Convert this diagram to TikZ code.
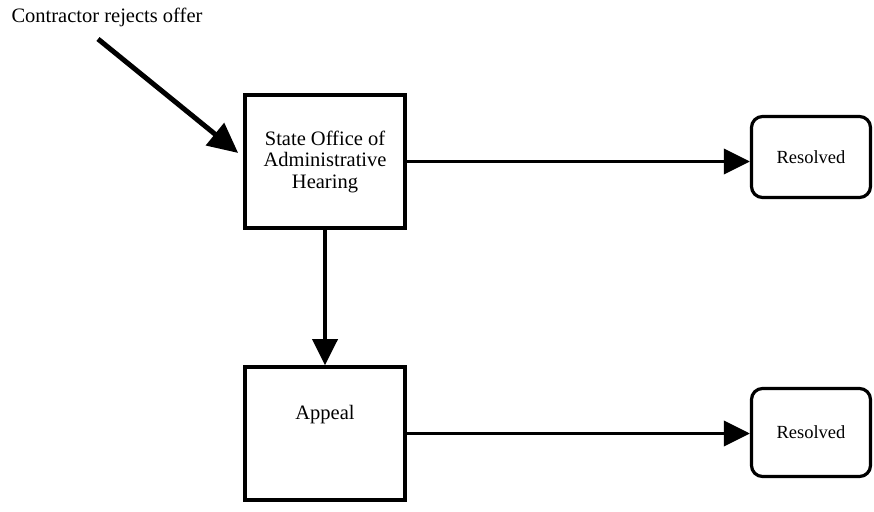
\documentclass[tikz,border=0pt]{standalone}
\usepackage{fontspec}
\setmainfont{Liberation Serif}
\usetikzlibrary{arrows.meta}

\tikzset{
  stagebox/.style={draw, line width=3.6pt, minimum width=160pt, minimum height=133pt,
    inner sep=0pt, align=center, font=\fontsize{20.5}{21.5}\selectfont},
  endbox/.style={draw, line width=3.2pt, rounded corners=11pt, minimum width=119pt,
    inner sep=0pt, font=\fontsize{18.5}{20}\selectfont},
  flow/.style={line width=3.8pt, -{Triangle[length=26pt, width=25pt]}},
  entry/.style={line width=5pt, -{Triangle[length=30pt, width=28pt]}}
}

\begin{document}
\begin{tikzpicture}[x=1pt, y=-1pt]
  \useasboundingbox (0,0) rectangle (874,511);

  % stages of the dispute process
  \node[stagebox] (soah) at (325,161.5) {State Office of\\Administrative\\Hearing};
  \node[stagebox, label={[font=\fontsize{20.5}{21.5}\selectfont, yshift=-62pt]north:Appeal}] (appeal) at (325,433.5) {};

  % outcomes
  \node[endbox, minimum height=81pt] (res1) at (811,157) {Resolved};
  \node[endbox, minimum height=88pt] (res2) at (811,432.5) {Resolved};

  % starting event
  \node[anchor=base west, font=\fontsize{20.5}{21.5}\selectfont] (start) at (8,23) {Contractor rejects offer};
  \coordinate (src) at (98,39);

  % connectors
  \draw[entry] (src) -- ([shift={(-5,-8.5)}]soah.west);
  \draw[flow] (soah.east) -- (soah.east -| res1.west);
  \draw[flow] (soah.south) -- (appeal.north);
  \draw[flow] (appeal.east) -- (appeal.east -| res2.west);
\end{tikzpicture}
\end{document}
